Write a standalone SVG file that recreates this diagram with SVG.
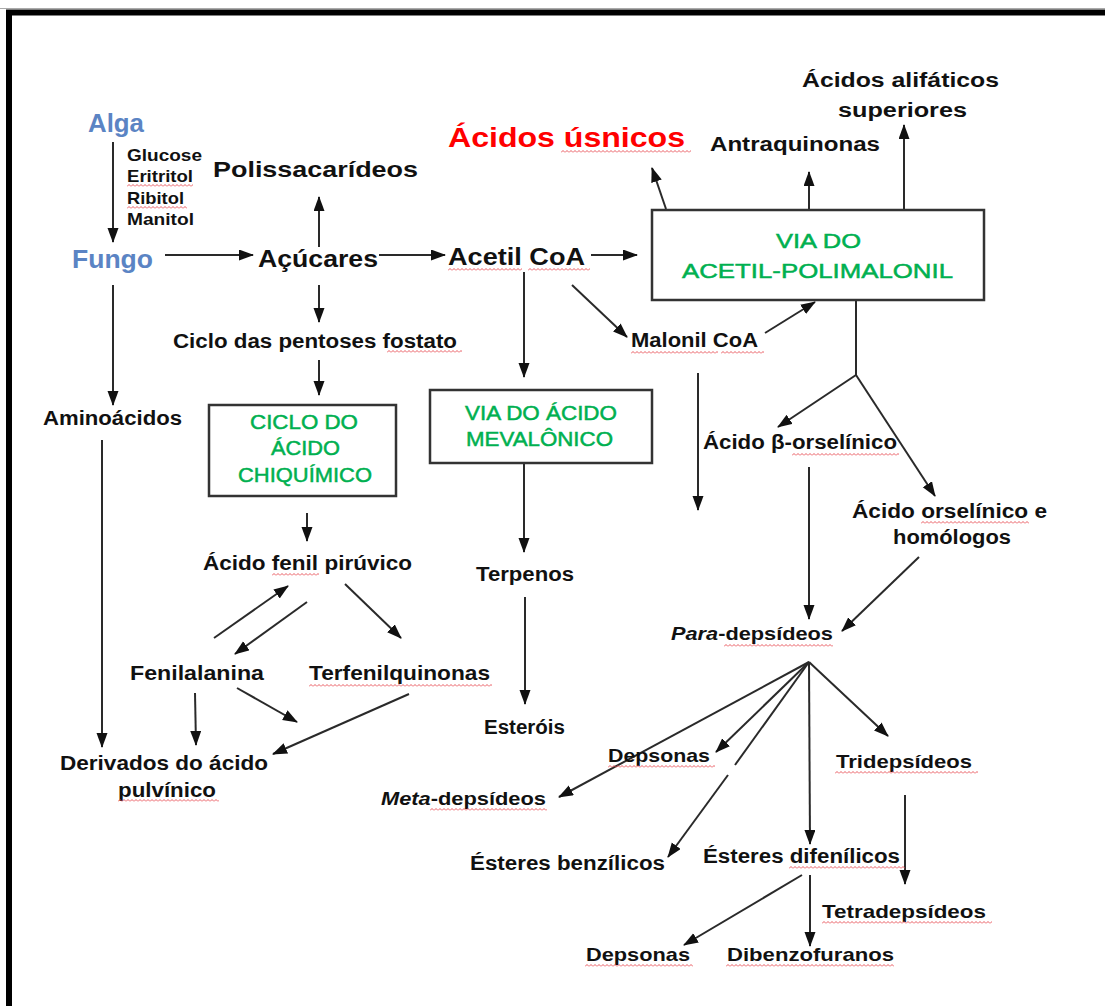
<svg xmlns="http://www.w3.org/2000/svg" width="1105" height="1006" viewBox="0 0 1105 1006">
<style>
.t{font-family:"Liberation Sans",Arial,sans-serif;font-weight:bold;fill:#111;}
.b{fill:#5b84c4;}
.g{font-weight:normal;fill:#00b050;stroke:#00b050;stroke-width:0.5;}
.r{fill:#ff0000;}
.box{fill:none;stroke:#333;stroke-width:2.5;}
.c line,.c path{stroke:#2a2a2a;stroke-width:2;fill:none;}
.a{marker-end:url(#ah);}
.sq{fill:url(#wave);}
</style>
<defs>
<marker id="ah" markerUnits="userSpaceOnUse" markerWidth="15" markerHeight="12" refX="14" refY="5.5" orient="auto">
<path d="M0,0 L15,5.5 L0,11 z" fill="#111"/>
</marker>
<pattern id="wave" patternUnits="userSpaceOnUse" width="4" height="3">
<path d="M0,2.5 L2,0.5 L4,2.5" fill="none" stroke="#e8484f" stroke-width="0.9"/>
</pattern>
</defs>
<rect width="1105" height="1006" fill="#fff"/>
<line x1="0" y1="8.5" x2="1105" y2="8.5" stroke="#aaa" stroke-width="1"/>
<path d="M9,1006 V12.5 H1105" fill="none" stroke="#000" stroke-width="6"/>

<g id="connectors" class="c">
<line class="a" x1="113" y1="142" x2="113" y2="242"/>
<line class="a" x1="165" y1="255" x2="253" y2="255"/>
<line class="a" x1="379" y1="255" x2="445" y2="255"/>
<line class="a" x1="591" y1="255" x2="637" y2="255"/>
<line class="a" x1="319" y1="247" x2="319" y2="197"/>
<line class="a" x1="319" y1="285" x2="319" y2="322"/>
<line class="a" x1="319" y1="360" x2="319" y2="395"/>
<line class="a" x1="113" y1="285" x2="113" y2="405"/>
<line class="a" x1="102" y1="440" x2="102" y2="747"/>
<line class="a" x1="307" y1="513" x2="307" y2="541"/>
<line class="a" x1="214" y1="638" x2="288" y2="586"/>
<line class="a" x1="307" y1="602" x2="235" y2="654"/>
<line class="a" x1="345" y1="584" x2="401" y2="638"/>
<line class="a" x1="195" y1="693" x2="196" y2="745"/>
<line class="a" x1="237" y1="688" x2="297" y2="722"/>
<line class="a" x1="409" y1="694" x2="273" y2="754"/>
<line class="a" x1="666" y1="209" x2="652" y2="168"/>
<line class="a" x1="809" y1="209" x2="809" y2="172"/>
<line class="a" x1="904" y1="209" x2="904" y2="125"/>
<line class="a" x1="524" y1="272" x2="524" y2="377"/>
<line class="a" x1="524" y1="463" x2="524" y2="552"/>
<line class="a" x1="525" y1="597" x2="525" y2="704"/>
<line class="a" x1="572" y1="285" x2="627" y2="337"/>
<line class="a" x1="765" y1="333" x2="815" y2="302"/>
<line x1="856" y1="300" x2="856" y2="375"/>
<line class="a" x1="856" y1="375" x2="778" y2="427"/>
<line class="a" x1="856" y1="375" x2="935" y2="496"/>
<line class="a" x1="698" y1="373" x2="698" y2="510"/>
<line class="a" x1="809" y1="467" x2="809" y2="619"/>
<line class="a" x1="919" y1="557" x2="842" y2="631"/>
<line class="a" x1="809" y1="662" x2="559" y2="797"/>
<line class="a" x1="809" y1="662" x2="716" y2="752"/>
<line x1="809" y1="662" x2="735" y2="765"/>
<line class="a" x1="728" y1="775" x2="668" y2="857"/>
<line class="a" x1="809" y1="662" x2="810" y2="844"/>
<line class="a" x1="809" y1="662" x2="888" y2="736"/>
<line class="a" x1="905" y1="795" x2="905" y2="884"/>
<line class="a" x1="802" y1="875" x2="684" y2="945"/>
<line class="a" x1="810" y1="875" x2="810" y2="946"/>
</g>

<g id="alga"><text class="t b" x="88" y="132" font-size="25" textLength="56" lengthAdjust="spacingAndGlyphs">Alga</text></g>
<g id="acucares-lista">
<text class="t" x="127" y="161" font-size="17" textLength="75" lengthAdjust="spacingAndGlyphs">Glucose</text>
<text class="t" x="127" y="182" font-size="17" textLength="66" lengthAdjust="spacingAndGlyphs">Eritritol</text>
<text class="t" x="127" y="204" font-size="17" textLength="57" lengthAdjust="spacingAndGlyphs">Ribitol</text>
<text class="t" x="127" y="225" font-size="17" textLength="67" lengthAdjust="spacingAndGlyphs">Manitol</text>
</g>
<g id="fungo"><text class="t b" x="72" y="268" font-size="25" textLength="81" lengthAdjust="spacingAndGlyphs">Fungo</text></g>
<g id="polissacarideos"><text class="t" x="213" y="177" font-size="22" textLength="205" lengthAdjust="spacingAndGlyphs">Polissacarídeos</text></g>
<g id="acucares"><text class="t" x="258" y="267" font-size="23" textLength="120" lengthAdjust="spacingAndGlyphs">Açúcares</text></g>
<g id="acetil-coa"><text class="t" x="448" y="265" font-size="23" textLength="137" lengthAdjust="spacingAndGlyphs">Acetil CoA</text></g>
<g id="acidos-usnicos"><text class="t r" x="448" y="147" font-size="28" textLength="237" lengthAdjust="spacingAndGlyphs">Ácidos úsnicos</text></g>
<g id="antraquinonas"><text class="t" x="710" y="151" font-size="20" textLength="170" lengthAdjust="spacingAndGlyphs">Antraquinonas</text></g>
<g id="acidos-alifaticos">
<text class="t" x="802" y="87" font-size="20" textLength="197" lengthAdjust="spacingAndGlyphs">Ácidos alifáticos</text>
<text class="t" x="838" y="117" font-size="20" textLength="129" lengthAdjust="spacingAndGlyphs">superiores</text>
</g>
<g id="via-acetil-polimalonil">
<rect class="box" x="652" y="210" width="332" height="90"/>
<text class="t g" x="776" y="248" font-size="21" textLength="85" lengthAdjust="spacingAndGlyphs">VIA DO</text>
<text class="t g" x="682" y="278" font-size="21" textLength="271" lengthAdjust="spacingAndGlyphs">ACETIL-POLIMALONIL</text>
</g>
<g id="ciclo-pentoses"><text class="t" x="173" y="348" font-size="20" textLength="284" lengthAdjust="spacingAndGlyphs">Ciclo das pentoses fostato</text></g>
<g id="aminoacidos"><text class="t" x="43" y="425" font-size="20" textLength="139" lengthAdjust="spacingAndGlyphs">Aminoácidos</text></g>
<g id="ciclo-chiquimico">
<rect class="box" x="209" y="405" width="187" height="91"/>
<text class="t g" x="250" y="429" font-size="21" textLength="108" lengthAdjust="spacingAndGlyphs">CICLO DO</text>
<text class="t g" x="271" y="455" font-size="21" textLength="69" lengthAdjust="spacingAndGlyphs">ÁCIDO</text>
<text class="t g" x="238" y="482" font-size="21" textLength="134" lengthAdjust="spacingAndGlyphs">CHIQUÍMICO</text>
</g>
<g id="via-mevalonico">
<rect class="box" x="430" y="390" width="222" height="73"/>
<text class="t g" x="465" y="420" font-size="21" textLength="152" lengthAdjust="spacingAndGlyphs">VIA DO ÁCIDO</text>
<text class="t g" x="466" y="446" font-size="21" textLength="147" lengthAdjust="spacingAndGlyphs">MEVALÔNICO</text>
</g>
<g id="malonil-coa"><text class="t" x="631" y="347" font-size="20" textLength="127" lengthAdjust="spacingAndGlyphs">Malonil CoA</text></g>
<g id="acido-beta-orselinico"><text class="t" x="703" y="449" font-size="20" textLength="194" lengthAdjust="spacingAndGlyphs">Ácido β-orselínico</text></g>
<g id="acido-orselinico">
<text class="t" x="852" y="518" font-size="20" textLength="195" lengthAdjust="spacingAndGlyphs">Ácido orselínico e</text>
<text class="t" x="893" y="544" font-size="20" textLength="118" lengthAdjust="spacingAndGlyphs">homólogos</text>
</g>
<g id="acido-fenil-piruvico"><text class="t" x="203" y="570" font-size="20" textLength="209" lengthAdjust="spacingAndGlyphs">Ácido fenil pirúvico</text></g>
<g id="terpenos"><text class="t" x="476" y="581" font-size="20" textLength="98" lengthAdjust="spacingAndGlyphs">Terpenos</text></g>
<g id="fenilalanina"><text class="t" x="130" y="680" font-size="21" textLength="134" lengthAdjust="spacingAndGlyphs">Fenilalanina</text></g>
<g id="terfenilquinonas"><text class="t" x="309" y="680" font-size="21" textLength="181" lengthAdjust="spacingAndGlyphs">Terfenilquinonas</text></g>
<g id="esterois"><text class="t" x="484" y="734" font-size="20" textLength="81" lengthAdjust="spacingAndGlyphs">Esteróis</text></g>
<g id="derivados-pulvinico">
<text class="t" x="60" y="770" font-size="21" textLength="208" lengthAdjust="spacingAndGlyphs">Derivados do ácido</text>
<text class="t" x="118" y="797" font-size="21" textLength="98" lengthAdjust="spacingAndGlyphs">pulvínico</text>
</g>
<g id="para-depsideos"><text class="t" x="671" y="640" font-size="19" textLength="162" lengthAdjust="spacingAndGlyphs"><tspan font-style="italic">Para</tspan>-depsídeos</text></g>
<g id="depsonas-1"><text class="t" x="608" y="762" font-size="19" textLength="102" lengthAdjust="spacingAndGlyphs">Depsonas</text></g>
<g id="tridepsideos"><text class="t" x="836" y="768" font-size="19" textLength="136" lengthAdjust="spacingAndGlyphs">Tridepsídeos</text></g>
<g id="meta-depsideos"><text class="t" x="381" y="805" font-size="19" textLength="165" lengthAdjust="spacingAndGlyphs"><tspan font-style="italic">Meta</tspan>-depsídeos</text></g>
<g id="esteres-benzilicos"><text class="t" x="470" y="870" font-size="20" textLength="195" lengthAdjust="spacingAndGlyphs">Ésteres benzílicos</text></g>
<g id="esteres-difenilicos"><text class="t" x="703" y="863" font-size="20" textLength="197" lengthAdjust="spacingAndGlyphs">Ésteres difenílicos</text></g>
<g id="tetradepsideos"><text class="t" x="822" y="918" font-size="19" textLength="164" lengthAdjust="spacingAndGlyphs">Tetradepsídeos</text></g>
<g id="depsonas-2"><text class="t" x="586" y="961" font-size="19" textLength="104" lengthAdjust="spacingAndGlyphs">Depsonas</text></g>
<g id="dibenzofuranos"><text class="t" x="727" y="961" font-size="19" textLength="167" lengthAdjust="spacingAndGlyphs">Dibenzofuranos</text></g>

<g id="spellcheck-underlines">
<rect class="sq" transform="translate(127 184)" width="66" height="3"/>
<rect class="sq" transform="translate(127 206)" width="60" height="3"/>
<rect class="sq" transform="translate(561 150)" width="130" height="3"/>
<rect class="sq" transform="translate(448 268)" width="74" height="3"/>
<rect class="sq" transform="translate(528 268)" width="62" height="3"/>
<rect class="sq" transform="translate(387 350)" width="75" height="3"/>
<rect class="sq" transform="translate(631 351)" width="87" height="3"/>
<rect class="sq" transform="translate(721 351)" width="43" height="3"/>
<rect class="sq" transform="translate(792 453)" width="107" height="3"/>
<rect class="sq" transform="translate(921 521)" width="108" height="3"/>
<rect class="sq" transform="translate(272 573)" width="47" height="3"/>
<rect class="sq" transform="translate(309 684)" width="183" height="3"/>
<rect class="sq" transform="translate(118 799)" width="101" height="3"/>
<rect class="sq" transform="translate(430 808)" width="117" height="3"/>
<rect class="sq" transform="translate(724 644)" width="109" height="3"/>
<rect class="sq" transform="translate(608 765)" width="107" height="3"/>
<rect class="sq" transform="translate(835 771)" width="143" height="3"/>
<rect class="sq" transform="translate(789 866)" width="116" height="3"/>
<rect class="sq" transform="translate(822 921)" width="170" height="3"/>
<rect class="sq" transform="translate(585 964)" width="108" height="3"/>
<rect class="sq" transform="translate(726 964)" width="168" height="3"/>
</g>
</svg>
